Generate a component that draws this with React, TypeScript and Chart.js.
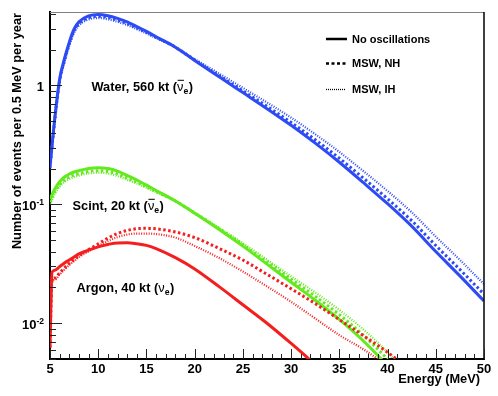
import React, { useEffect, useRef } from "react";
import { Chart, registerables } from "chart.js";

Chart.register(...registerables);

// Energy grid (MeV)
const ENERGY = [5, 5.2, 5.5, 6, 6.5, 7, 7.5, 8, 9, 10, 11, 12, 13, 14, 15, 16, 18, 20, 22.5, 25, 27.5, 30, 32.5, 35, 37.5, 40, 42.5, 45, 47.5, 50];

// Water, 560 kt (anti-nu_e)
const WATER_NOOSC = [0.209, 0.309, 0.537, 1.135, 1.679, 2.317, 2.985, 3.428, 3.846, 3.954, 3.864, 3.673, 3.428, 3.133, 2.851, 2.57, 2.099, 1.622, 1.189, 0.871, 0.638, 0.462, 0.327, 0.226, 0.152, 0.1012, 0.0655, 0.0401, 0.025, 0.01538];
const WATER_NH = [0.2018, 0.2985, 0.5188, 1.096, 1.622, 2.239, 2.884, 3.311, 3.715, 3.819, 3.733, 3.548, 3.327, 3.055, 2.799, 2.541, 2.099, 1.637, 1.213, 0.8995, 0.6668, 0.4887, 0.3499, 0.2443, 0.166, 0.1114, 0.07295, 0.04508, 0.02831, 0.01754];
const WATER_IH = [0.195, 0.2884, 0.5012, 1.059, 1.567, 2.163, 2.786, 3.199, 3.589, 3.69, 3.606, 3.428, 3.221, 2.979, 2.742, 2.5, 2.099, 1.667, 1.265, 0.955, 0.7194, 0.5358, 0.389, 0.2761, 0.1901, 0.1294, 0.0857, 0.05358, 0.03404, 0.02133];

// Scint, 20 kt (anti-nu_e)
const SCINT_NOOSC = [0.1102, 0.1202, 0.1349, 0.1549, 0.1698, 0.1799, 0.1871, 0.1919, 0.2004, 0.2032, 0.2, 0.1905, 0.175, 0.1603, 0.1452, 0.1309, 0.1067, 0.0841, 0.0617, 0.0445, 0.0314, 0.0221, 0.0156, 0.01076, 0.00708, 0.00437, 0.00251, null, null, null];
const SCINT_NH = [0.104, 0.1135, 0.1274, 0.1462, 0.1603, 0.1698, 0.1766, 0.1811, 0.1892, 0.1919, 0.1888, 0.1799, 0.1663, 0.1538, 0.1406, 0.1279, 0.1067, 0.0847, 0.0628, 0.0458, 0.0328, 0.02344, 0.01683, 0.0118, 0.00791, 0.00498, 0.00292, null, null, null];
const SCINT_IH = [0.1, 0.1091, 0.1225, 0.1406, 0.1542, 0.1633, 0.1698, 0.1742, 0.182, 0.1845, 0.1816, 0.173, 0.1607, 0.1496, 0.138, 0.1268, 0.1067, 0.0851, 0.0638, 0.0471, 0.0342, 0.02483, 0.01816, 0.01294, 0.00885, 0.00569, 0.00339, null, null, null];

// Argon, 40 kt (nu_e)
const ARGON_NOOSC = [0.00625, 0.0267, 0.0279, 0.0299, 0.0321, 0.034, 0.0361, 0.0383, 0.0411, 0.0439, 0.046, 0.0474, 0.0475, 0.0466, 0.0452, 0.0424, 0.0356, 0.0286, 0.0204, 0.01429, 0.01, 0.00676, 0.00447, 0.00282, null, null, null, null, null, null];
const ARGON_NH = [0.00625, 0.0227, 0.024, 0.0265, 0.0292, 0.0318, 0.0343, 0.037, 0.0417, 0.0465, 0.0519, 0.0569, 0.0603, 0.0624, 0.0628, 0.0622, 0.0586, 0.0525, 0.0427, 0.034, 0.0258, 0.0195, 0.01462, 0.01072, 0.00785, 0.00569, 0.00398, null, null, null];
const ARGON_IH = [0.00625, 0.0219, 0.0232, 0.0257, 0.0283, 0.0309, 0.0333, 0.0359, 0.0403, 0.0445, 0.049, 0.053, 0.0557, 0.0568, 0.0568, 0.0562, 0.0525, 0.0447, 0.0355, 0.0272, 0.0204, 0.01514, 0.01096, 0.00794, 0.00603, 0.00437, null, null, null, null];

const X_MIN = 5;
const X_MAX = 50;
const Y_MIN = 0.005;
const Y_MAX = 4.15;
const X_TICK_STEP = 5;
const Y_DECADE_LABELS = [
  { v: 1, base: "1", exp: "" },
  { v: 0.1, base: "10", exp: "-1" },
  { v: 0.01, base: "10", exp: "-2" },
];

const LEGEND_LABELS = ["No oscillations", "MSW, NH", "MSW, IH"];
const Y_TITLE = "Number of events per 0.5 MeV per year";
const X_TITLE = "Energy (MeV)";

const BLUE = "#2d4bf5";
const GREEN = "#62ea1e";
const RED = "#f51e1e";
const FONT = "'Liberation Sans', Arial, Helvetica, sans-serif";

function pts(vals: (number | null)[]) {
  return ENERGY.map((e, i) => ({ x: e, y: vals[i] }));
}

function ds(vals: (number | null)[], color: string, style: "solid" | "dash" | "dot") {
  const base: any = {
    data: pts(vals),
    borderColor: color,
    backgroundColor: color,
    pointRadius: 0,
    fill: false,
    cubicInterpolationMode: "monotone",
    spanGaps: false,
    borderCapStyle: "butt",
  };
  if (style === "solid") {
    base.borderWidth = 3;
  } else if (style === "dash") {
    base.borderWidth = 3;
    base.borderDash = [2.5, 2.5];
  } else {
    base.borderWidth = 2.2;
    base.borderDash = [1, 1.5];
  }
  return base;
}

function line(ctx: CanvasRenderingContext2D, x1: number, y1: number, x2: number, y2: number) {
  ctx.beginPath();
  ctx.moveTo(x1, y1);
  ctx.lineTo(x2, y2);
  ctx.stroke();
}

function drawLabel(ctx: CanvasRenderingContext2D, x: number, y: number, pre: string, bar: boolean) {
  const size = 12.8;
  ctx.font = `bold ${size}px ${FONT}`;
  ctx.textAlign = "left";
  ctx.textBaseline = "alphabetic";
  ctx.fillStyle = "#000";
  ctx.fillText(pre, x, y);
  let cx = x + ctx.measureText(pre).width;
  ctx.font = `${size}px ${FONT}`;
  const nuW = ctx.measureText("ν").width;
  ctx.fillText("ν", cx, y);
  if (bar) {
    ctx.strokeStyle = "#000";
    ctx.lineWidth = 1;
    line(ctx, cx + 0.5, y - 10.5, cx + nuW + 0.5, y - 10.5);
  }
  cx += nuW;
  ctx.font = `bold ${size * 0.68}px ${FONT}`;
  ctx.fillText("e", cx, y + 3);
  cx += ctx.measureText("e").width + 0.5;
  ctx.font = `bold ${size}px ${FONT}`;
  ctx.fillText(")", cx, y);
}

const overlayPlugin = {
  id: "overlay",
  afterDraw(chart: any) {
    const ctx: CanvasRenderingContext2D = chart.ctx;
    const { left, right, top, bottom } = chart.chartArea;
    const xs = chart.scales.x;
    const ys = chart.scales.y;
    ctx.save();

    // frame top & right
    ctx.strokeStyle = "#808080";
    ctx.lineWidth = 1;
    line(ctx, left, top + 0.5, right, top + 0.5);
    ctx.strokeStyle = "#000";
    ctx.lineWidth = 1.5;
    line(ctx, right, top, right, bottom);

    // x ticks (inward)
    ctx.strokeStyle = "#222";
    ctx.lineWidth = 1;
    for (let e = X_MIN; e <= X_MAX; e += 1) {
      const px = Math.round(xs.getPixelForValue(e)) + 0.5;
      const len = e % X_TICK_STEP === 0 ? 10 : 5;
      line(ctx, px, bottom, px, bottom - len);
    }

    // y ticks (inward)
    for (const d of [0.001, 0.01, 0.1, 1]) {
      for (let m = 1; m <= 9; m++) {
        const v = m * d;
        if (v < Y_MIN * 0.999 || v > Y_MAX) continue;
        const py = Math.round(ys.getPixelForValue(v)) + 0.5;
        const len = m === 1 ? 12 : 6;
        line(ctx, left, py, left + len, py);
      }
    }

    // y tick labels
    ctx.fillStyle = "#000";
    ctx.textBaseline = "alphabetic";
    for (const t of Y_DECADE_LABELS) {
      const py = ys.getPixelForValue(t.v);
      const rx = 44;
      let expW = 0;
      if (t.exp) {
        ctx.font = `bold 8.5px ${FONT}`;
        expW = ctx.measureText(t.exp).width;
        ctx.textAlign = "left";
        ctx.fillText(t.exp, rx - expW, py + 1);
      }
      ctx.font = `bold 13px ${FONT}`;
      ctx.textAlign = "right";
      ctx.fillText(t.base, rx - expW, py + 5.5);
    }

    // axis titles
    ctx.font = `bold 12.8px ${FONT}`;
    ctx.textAlign = "right";
    ctx.fillText(X_TITLE, 480, 383);
    ctx.save();
    ctx.translate(20.5, 13);
    ctx.rotate(-Math.PI / 2);
    ctx.textAlign = "right";
    ctx.fillText(Y_TITLE, 0, 0);
    ctx.restore();

    // legend
    const ly = [39, 63.5, 89.5];
    ctx.strokeStyle = "#000";
    ctx.setLineDash([]);
    ctx.lineWidth = 2.5;
    line(ctx, 326, ly[0], 347, ly[0]);
    ctx.setLineDash([3, 2.5]);
    line(ctx, 326, ly[1], 346, ly[1]);
    ctx.lineWidth = 1.3;
    ctx.setLineDash([1, 1]);
    line(ctx, 326, ly[2], 346, ly[2]);
    ctx.setLineDash([]);
    ctx.font = `bold 11px ${FONT}`;
    ctx.textAlign = "left";
    ctx.textBaseline = "middle";
    LEGEND_LABELS.forEach((s, i) => ctx.fillText(s, 352, ly[i] + 0.5));

    // annotations
    drawLabel(ctx, 91.5, 90.8, "Water, 560 kt (", true);
    drawLabel(ctx, 72.5, 209.8, "Scint, 20 kt (", true);
    drawLabel(ctx, 76.5, 291.5, "Argon, 40 kt (", false);

    ctx.restore();
  },
};

export default function App() {
  const ref = useRef<HTMLCanvasElement | null>(null);
  useEffect(() => {
    if (!ref.current) return;
    const chart = new Chart(ref.current, {
      type: "line",
      data: {
        datasets: [
          ds(ARGON_IH, RED, "dot"),
          ds(ARGON_NH, RED, "dash"),
          ds(ARGON_NOOSC, RED, "solid"),
          ds(SCINT_IH, GREEN, "dot"),
          ds(SCINT_NH, GREEN, "dash"),
          ds(SCINT_NOOSC, GREEN, "solid"),
          ds(WATER_IH, BLUE, "dot"),
          ds(WATER_NH, BLUE, "dash"),
          ds(WATER_NOOSC, BLUE, "solid"),
        ],
      },
      options: {
        responsive: false,
        animation: false,
        devicePixelRatio: 1,
        layout: { padding: { left: 0, right: 14, top: 12, bottom: 0 } },
        plugins: { legend: { display: false }, tooltip: { enabled: false } },
        scales: {
          x: {
            type: "linear",
            min: X_MIN,
            max: X_MAX,
            grid: { display: false, drawTicks: false },
            border: { display: true, color: "#000", width: 2 },
            ticks: {
              stepSize: X_TICK_STEP,
              autoSkip: false,
              maxRotation: 0,
              color: "#000",
              padding: 3,
              font: { family: FONT, weight: "bold", size: 13 },
            },
            afterFit: (s: any) => {
              s.height = 37;
            },
          },
          y: {
            type: "logarithmic",
            min: Y_MIN,
            max: Y_MAX,
            grid: { display: false, drawTicks: false },
            border: { display: true, color: "#000", width: 2 },
            ticks: { display: false },
            afterFit: (s: any) => {
              s.width = 50;
            },
          },
        },
      } as any,
      plugins: [overlayPlugin],
    });
    return () => chart.destroy();
  }, []);
  return (
    <div style={{ position: "fixed", left: 0, top: 0, width: 498, height: 396, background: "#fff" }}>
      <canvas ref={ref} width={498} height={396} style={{ width: 498, height: 396, display: "block" }} />
    </div>
  );
}
